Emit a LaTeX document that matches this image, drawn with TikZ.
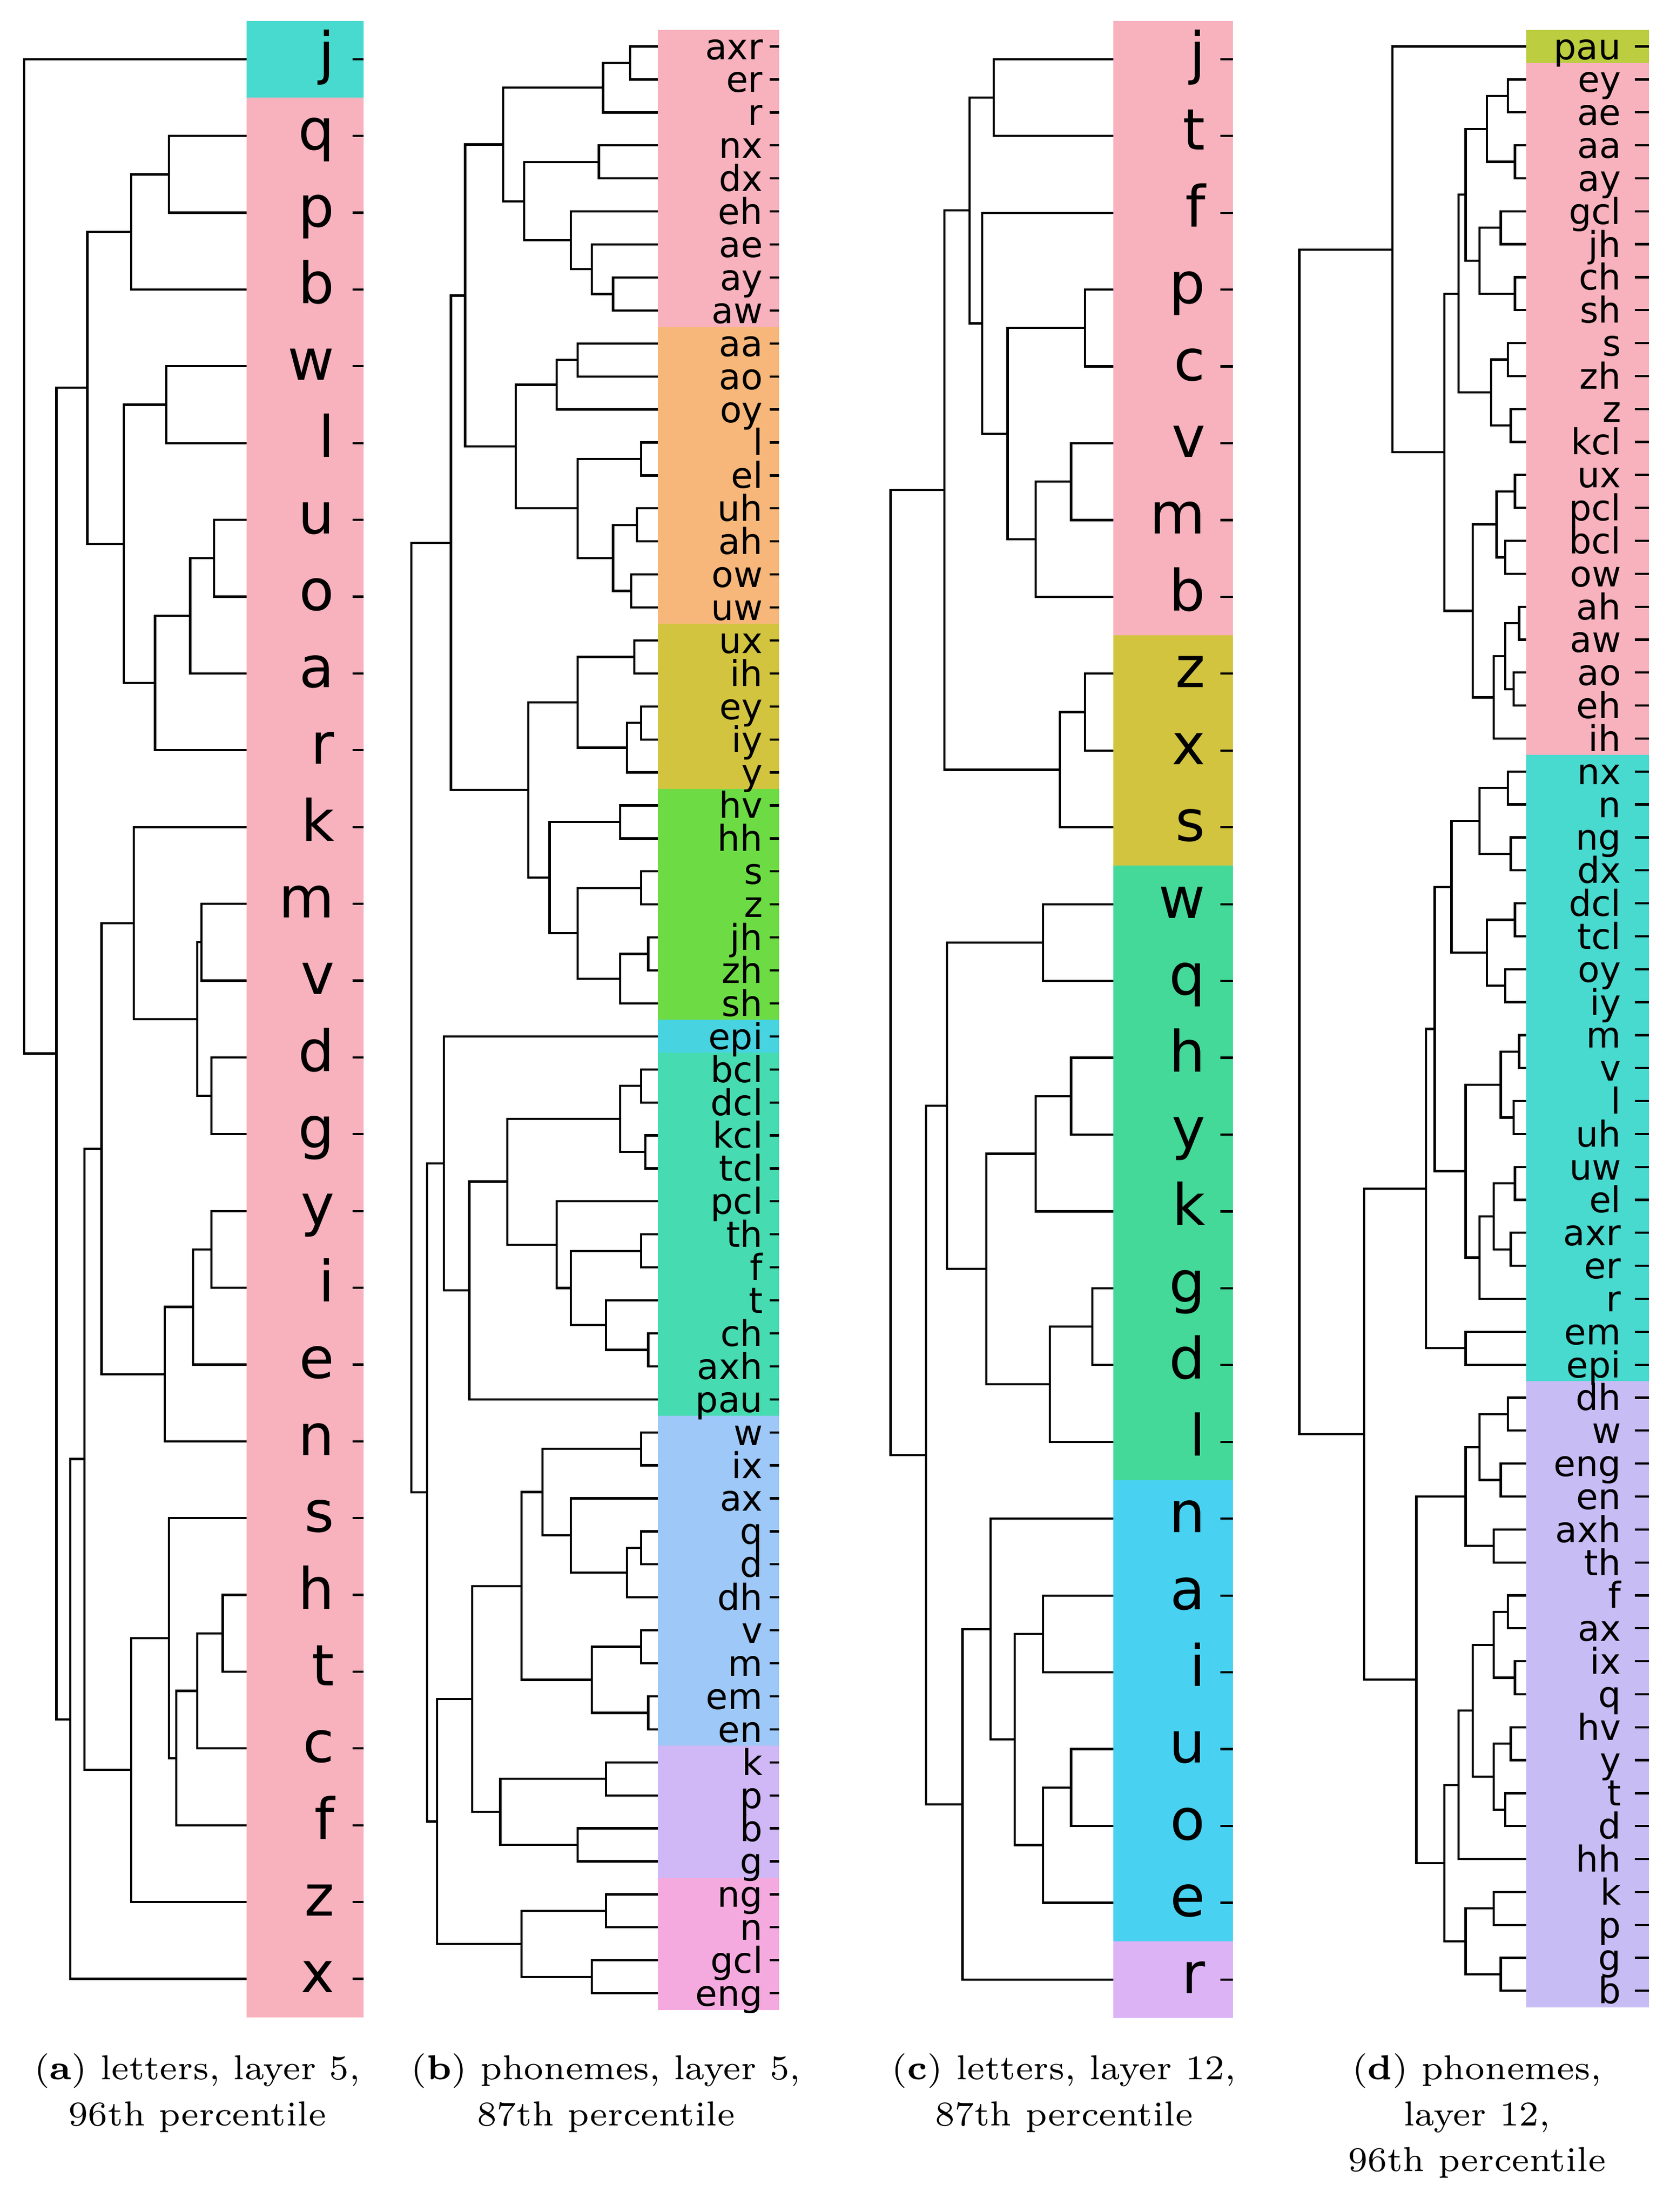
\documentclass[tikz,border=0pt]{standalone}
\usepackage{fontspec}
\newfontfamily\lblfont{DejaVu Sans}
\usepackage{tikz}
\definecolor{myPink}{HTML}{F7B2BD}
\definecolor{myCyan}{HTML}{48D9CF}
\definecolor{myOrange}{HTML}{F7B77A}
\definecolor{myOlive}{HTML}{D3C440}
\definecolor{myGreen}{HTML}{6DDC44}
\definecolor{mySky}{HTML}{47D3E0}
\definecolor{myTeal}{HTML}{46DBB0}
\definecolor{myBlue}{HTML}{9EC8F7}
\definecolor{myLav}{HTML}{CFB8F5}
\definecolor{myMag}{HTML}{F5AADF}
\definecolor{myMint}{HTML}{44D998}
\definecolor{myAzure}{HTML}{48D1F0}
\definecolor{myLilac}{HTML}{DCB3F5}
\definecolor{myLime}{HTML}{BCCD40}
\definecolor{myPeri}{HTML}{C8BCF5}

% one merge of the tree: index/x of both children, x of the join
\newcommand\mrg[5]{\draw[dend] (#2,{\yz+(#1)*\dy}) -| (#5,{\yz+(#3)*\dy}) -- (#4,{\yz+(#3)*\dy});}
% one coloured band of the label strip
\newcommand\band[5]{\fill[#5] (#1,{\yz+(#3)*\dy}) rectangle (#2,{\yz+(#4)*\dy});}

\begin{document}
\begin{tikzpicture}[x=0.01cm, y=-0.01cm]
  \tikzset{
    dend/.style={line width=0.45pt, black},
    tick/.style={line width=0.45pt, black},
    big/.style={font=\lblfont\fontsize{11.5}{12}\selectfont, anchor=east, inner sep=0pt, text height=1.6ex, text depth=0.3ex},
    small/.style={font=\lblfont\fontsize{7.2}{7.5}\selectfont, anchor=east, inner sep=0pt, text height=1.5ex, text depth=0.3ex},
    capt/.style={font=\fontsize{7}{9.3}\selectfont, align=center, anchor=north}
  }
  \useasboundingbox (0,0) rectangle (1185,1570);

  % (a) letters, layer 5
  \def\yz{42}\def\dy{54.5}
  \band{175}{258}{-0.5}{0.5}{myCyan}
  \band{175}{258}{0.5}{25.5}{myPink}
  \foreach \t [count=\i from 0] in {j,q,p,b,w,l,u,o,a,r,k,m,v,d,g,y,i,e,n,s,h,t,c,f,z,x} {
    \node[big] (a\i) at (238,{\yz+\i*\dy}) {\t};
    \draw[tick] (250,{\yz+\i*\dy}) -- (258,{\yz+\i*\dy});
  }
  \mrg{1}{175}{2}{175}{120}
  \mrg{1.5}{120}{3}{175}{93}
  \mrg{4}{175}{5}{175}{118}
  \mrg{6}{175}{7}{175}{152}
  \mrg{6.5}{152}{8}{175}{135}
  \mrg{7.25}{135}{9}{175}{110}
  \mrg{4.5}{118}{8.125}{110}{88}
  \mrg{2.25}{93}{6.3125}{88}{62}
  \mrg{11}{175}{12}{175}{143}
  \mrg{13}{175}{14}{175}{150}
  \mrg{11.5}{143}{13.5}{150}{140}
  \mrg{10}{175}{12.5}{140}{95}
  \mrg{15}{175}{16}{175}{150}
  \mrg{15.5}{150}{17}{175}{137}
  \mrg{16.25}{137}{18}{175}{117}
  \mrg{11.25}{95}{17.125}{117}{72}
  \mrg{20}{175}{21}{175}{158}
  \mrg{20.5}{158}{22}{175}{140}
  \mrg{21.25}{140}{23}{175}{125}
  \mrg{19}{175}{22.125}{125}{120}
  \mrg{20.5625}{120}{24}{175}{93}
  \mrg{14.1875}{72}{22.28}{93}{60}
  \mrg{18.23}{60}{25}{175}{50}
  \mrg{4.28}{62}{21.62}{50}{40}
  \mrg{0}{175}{12.95}{40}{17}
  \node[capt] (capA) at (140,1445) {(\textbf{a}) letters, layer 5,\\96th percentile};

  % (b) phonemes, layer 5
  \def\yz{33}\def\dy{23.42}
  \band{467}{553}{-0.5}{8.5}{myPink}
  \band{467}{553}{8.5}{17.5}{myOrange}
  \band{467}{553}{17.5}{22.5}{myOlive}
  \band{467}{553}{22.5}{29.5}{myGreen}
  \band{467}{553}{29.5}{30.5}{mySky}
  \band{467}{553}{30.5}{41.5}{myTeal}
  \band{467}{553}{41.5}{51.5}{myBlue}
  \band{467}{553}{51.5}{55.5}{myLav}
  \band{467}{553}{55.5}{59.5}{myMag}
  \foreach \t [count=\i from 0] in {axr,er,r,nx,dx,eh,ae,ay,aw,aa,ao,oy,l,el,uh,ah,ow,uw,ux,ih,ey,iy,y,hv,hh,s,z,jh,zh,sh,epi,bcl,dcl,kcl,tcl,pcl,th,f,t,ch,axh,pau,w,ix,ax,q,d,dh,v,m,em,en,k,p,b,g,ng,n,gcl,eng} {
    \node[small] (b\i) at (542,{\yz+\i*\dy}) {\t};
    \draw[tick] (546,{\yz+\i*\dy}) -- (553,{\yz+\i*\dy});
  }
  \mrg{0}{467}{1}{467}{447}
  \mrg{0.5}{447}{2}{467}{428}
  \mrg{3}{467}{4}{467}{425}
  \mrg{7}{467}{8}{467}{435}
  \mrg{6}{467}{7.5}{435}{420}
  \mrg{5}{467}{6.75}{420}{405}
  \mrg{3.5}{425}{5.875}{405}{372}
  \mrg{1.25}{428}{4.69}{372}{357}
  \mrg{9}{467}{10}{467}{410}
  \mrg{9.5}{410}{11}{467}{395}
  \mrg{12}{467}{13}{467}{455}
  \mrg{14}{467}{15}{467}{452}
  \mrg{16}{467}{17}{467}{448}
  \mrg{14.5}{452}{16.5}{448}{435}
  \mrg{12.5}{455}{15.5}{435}{410}
  \mrg{10.25}{395}{14}{410}{366}
  \mrg{2.97}{357}{12.125}{366}{330}
  \mrg{18}{467}{19}{467}{450}
  \mrg{20}{467}{21}{467}{455}
  \mrg{20.5}{455}{22}{467}{445}
  \mrg{18.5}{450}{21.25}{445}{410}
  \mrg{23}{467}{24}{467}{440}
  \mrg{25}{467}{26}{467}{455}
  \mrg{27}{467}{28}{467}{460}
  \mrg{27.5}{460}{29}{467}{440}
  \mrg{25.5}{455}{28.25}{440}{410}
  \mrg{23.5}{440}{26.875}{410}{390}
  \mrg{19.875}{410}{25.19}{390}{375}
  \mrg{7.55}{330}{22.53}{375}{320}
  \mrg{31}{467}{32}{467}{455}
  \mrg{33}{467}{34}{467}{458}
  \mrg{31.5}{455}{33.5}{458}{440}
  \mrg{36}{467}{37}{467}{455}
  \mrg{39}{467}{40}{467}{460}
  \mrg{38}{467}{39.5}{460}{430}
  \mrg{36.5}{455}{38.75}{430}{405}
  \mrg{35}{467}{37.625}{405}{395}
  \mrg{32.5}{440}{36.31}{395}{360}
  \mrg{34.4}{360}{41}{467}{333}
  \mrg{30}{467}{37.7}{333}{315}
  \mrg{42}{467}{43}{467}{455}
  \mrg{45}{467}{46}{467}{455}
  \mrg{45.5}{455}{47}{467}{445}
  \mrg{48}{467}{49}{467}{455}
  \mrg{50}{467}{51}{467}{460}
  \mrg{48.5}{455}{50.5}{460}{420}
  \mrg{44}{467}{46.25}{445}{405}
  \mrg{42.5}{455}{45.125}{405}{385}
  \mrg{43.81}{385}{49.5}{420}{370}
  \mrg{52}{467}{53}{467}{430}
  \mrg{54}{467}{55}{467}{410}
  \mrg{52.5}{430}{54.5}{410}{355}
  \mrg{56}{467}{57}{467}{430}
  \mrg{58}{467}{59}{467}{420}
  \mrg{56.5}{430}{58.5}{420}{370}
  \mrg{46.66}{370}{53.5}{355}{335}
  \mrg{50.08}{335}{57.5}{370}{310}
  \mrg{33.85}{315}{53.79}{310}{303}
  \mrg{15.04}{320}{43.82}{303}{292}
  \node[capt] (capB) at (430,1445) {(\textbf{b}) phonemes, layer 5,\\87th percentile};

  % (c) letters, layer 12
  \def\yz{42}\def\dy{54.52}
  \band{790}{875}{-0.5}{7.5}{myPink}
  \band{790}{875}{7.5}{10.5}{myOlive}
  \band{790}{875}{10.5}{18.5}{myMint}
  \band{790}{875}{18.5}{24.5}{myAzure}
  \band{790}{875}{24.5}{25.5}{myLilac}
  \foreach \t [count=\i from 0] in {j,t,f,p,c,v,m,b,z,x,s,w,q,h,y,k,g,d,l,n,a,i,u,o,e,r} {
    \node[big] (c\i) at (856,{\yz+\i*\dy}) {\t};
    \draw[tick] (866,{\yz+\i*\dy}) -- (875,{\yz+\i*\dy});
  }
  \mrg{0}{790}{1}{790}{705}
  \mrg{3}{790}{4}{790}{770}
  \mrg{5}{790}{6}{790}{760}
  \mrg{5.5}{760}{7}{790}{735}
  \mrg{3.5}{770}{6.25}{735}{715}
  \mrg{2}{790}{4.875}{715}{697}
  \mrg{0.5}{705}{3.44}{697}{688}
  \mrg{8}{790}{9}{790}{770}
  \mrg{8.5}{770}{10}{790}{752}
  \mrg{1.97}{688}{9.25}{752}{670}
  \mrg{11}{790}{12}{790}{740}
  \mrg{13}{790}{14}{790}{760}
  \mrg{13.5}{760}{15}{790}{735}
  \mrg{16}{790}{17}{790}{775}
  \mrg{16.5}{775}{18}{790}{745}
  \mrg{14.25}{735}{17.25}{745}{700}
  \mrg{11.5}{740}{15.75}{700}{672}
  \mrg{20}{790}{21}{790}{740}
  \mrg{22}{790}{23}{790}{760}
  \mrg{22.5}{760}{24}{790}{740}
  \mrg{20.5}{740}{23.25}{740}{720}
  \mrg{19}{790}{21.875}{720}{703}
  \mrg{20.44}{703}{25}{790}{683}
  \mrg{13.625}{672}{22.72}{683}{657}
  \mrg{5.61}{670}{18.17}{657}{632}
  \node[capt] (capC) at (755,1445) {(\textbf{c}) letters, layer 12,\\87th percentile};

  % (d) phonemes, layer 12
  \def\yz{33}\def\dy{23.39}
  \band{1083}{1170}{-0.5}{0.5}{myLime}
  \band{1083}{1170}{0.5}{21.5}{myPink}
  \band{1083}{1170}{21.5}{40.5}{myCyan}
  \band{1083}{1170}{40.5}{59.5}{myPeri}
  \foreach \t [count=\i from 0] in {pau,ey,ae,aa,ay,gcl,jh,ch,sh,s,zh,z,kcl,ux,pcl,bcl,ow,ah,aw,ao,eh,ih,nx,n,ng,dx,dcl,tcl,oy,iy,m,v,l,uh,uw,el,axr,er,r,em,epi,dh,w,eng,en,axh,th,f,ax,ix,q,hv,y,t,d,hh,k,p,g,b} {
    \node[small] (d\i) at (1151,{\yz+\i*\dy}) {\t};
    \draw[tick] (1160,{\yz+\i*\dy}) -- (1170,{\yz+\i*\dy});
  }
  \mrg{1}{1083}{2}{1083}{1070}
  \mrg{3}{1083}{4}{1083}{1075}
  \mrg{1.5}{1070}{3.5}{1075}{1055}
  \mrg{5}{1083}{6}{1083}{1065}
  \mrg{7}{1083}{8}{1083}{1075}
  \mrg{5.5}{1065}{7.5}{1075}{1050}
  \mrg{2.5}{1055}{6.5}{1050}{1040}
  \mrg{9}{1083}{10}{1083}{1070}
  \mrg{11}{1083}{12}{1083}{1072}
  \mrg{9.5}{1070}{11.5}{1072}{1058}
  \mrg{4.5}{1040}{10.5}{1058}{1035}
  \mrg{13}{1083}{14}{1083}{1075}
  \mrg{15}{1083}{16}{1083}{1068}
  \mrg{13.5}{1075}{15.5}{1068}{1062}
  \mrg{17}{1083}{18}{1083}{1078}
  \mrg{19}{1083}{20}{1083}{1074}
  \mrg{17.5}{1078}{19.5}{1074}{1068}
  \mrg{18.5}{1068}{21}{1083}{1060}
  \mrg{14.5}{1062}{19.75}{1060}{1045}
  \mrg{7.5}{1035}{17.125}{1045}{1025}
  \mrg{0}{1083}{12.31}{1025}{988}
  \mrg{22}{1083}{23}{1083}{1070}
  \mrg{24}{1083}{25}{1083}{1072}
  \mrg{22.5}{1070}{24.5}{1072}{1050}
  \mrg{26}{1083}{27}{1083}{1075}
  \mrg{28}{1083}{29}{1083}{1068}
  \mrg{26.5}{1075}{28.5}{1068}{1055}
  \mrg{30}{1083}{31}{1083}{1078}
  \mrg{32}{1083}{33}{1083}{1074}
  \mrg{30.5}{1078}{32.5}{1074}{1065}
  \mrg{34}{1083}{35}{1083}{1075}
  \mrg{36}{1083}{37}{1083}{1072}
  \mrg{34.5}{1075}{36.5}{1072}{1060}
  \mrg{35.5}{1060}{38}{1083}{1050}
  \mrg{23.5}{1050}{27.5}{1055}{1030}
  \mrg{31.5}{1065}{36.75}{1050}{1040}
  \mrg{25.5}{1030}{34.125}{1040}{1018}
  \mrg{39}{1083}{40}{1083}{1040}
  \mrg{29.81}{1018}{39.5}{1040}{1012}
  \mrg{41}{1083}{42}{1083}{1070}
  \mrg{43}{1083}{44}{1083}{1065}
  \mrg{41.5}{1070}{43.5}{1065}{1050}
  \mrg{45}{1083}{46}{1083}{1060}
  \mrg{42.5}{1050}{45.5}{1060}{1040}
  \mrg{47}{1083}{48}{1083}{1070}
  \mrg{49}{1083}{50}{1083}{1075}
  \mrg{47.5}{1070}{49.5}{1075}{1060}
  \mrg{51}{1083}{52}{1083}{1072}
  \mrg{53}{1083}{54}{1083}{1068}
  \mrg{51.5}{1072}{53.5}{1068}{1060}
  \mrg{48.5}{1060}{52.5}{1060}{1045}
  \mrg{50.5}{1045}{55}{1083}{1035}
  \mrg{56}{1083}{57}{1083}{1060}
  \mrg{58}{1083}{59}{1083}{1065}
  \mrg{56.5}{1060}{58.5}{1065}{1040}
  \mrg{52.75}{1035}{57.5}{1040}{1025}
  \mrg{44}{1040}{55.125}{1025}{1005}
  \mrg{34.66}{1012}{49.56}{1005}{968}
  \mrg{6.16}{988}{42.11}{968}{922}
  \node[capt] (capD) at (1048,1445) {(\textbf{d}) phonemes,\\layer 12,\\96th percentile};
\end{tikzpicture}
\end{document}
